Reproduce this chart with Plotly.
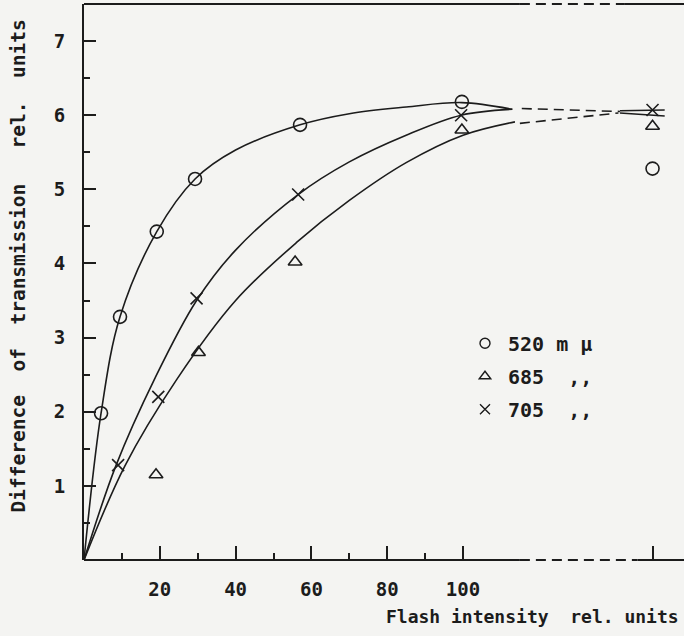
import plotly.graph_objects as go

# ---- measured points (flash intensity, difference of transmission) ----
x_520 = [4.5, 9.5, 19.2, 29.3, 57.0, 99.7]
y_520 = [1.98, 3.28, 4.43, 5.14, 5.87, 6.18]
x_685 = [19.0, 30.2, 55.7, 99.7]
y_685 = [1.15, 2.80, 4.02, 5.80]
x_705 = [9.0, 19.6, 29.7, 56.5, 99.5]
y_705 = [1.28, 2.20, 3.53, 4.93, 6.00]

# points beyond the axis break, placed at the post-break tick
far_x = 150
far_520 = 5.28
far_685 = 5.85
far_705 = 6.07

# ---- hand-fitted saturation curves ----
fit_520_x = [0, 4.5, 9.5, 19.2, 29.3, 40, 57, 70, 85, 99.7, 113]
fit_520_y = [0, 1.98, 3.28, 4.43, 5.14, 5.53, 5.87, 6.02, 6.11, 6.17, 6.08]
fit_705_x = [0, 8.4, 18.7, 29.7, 40, 56.5, 70, 85, 99.5, 113]
fit_705_y = [0, 1.27, 2.45, 3.50, 4.18, 4.93, 5.37, 5.73, 6.00, 6.08]
fit_685_x = [0, 10.8, 24.4, 40, 56, 70, 85, 100, 113.7]
fit_685_y = [0, 1.27, 2.43, 3.50, 4.28, 4.85, 5.36, 5.73, 5.91]

# extrapolations across the break
ext_upper_x = [115.5, 141.4]
ext_upper_y = [6.09, 6.05]
ext_lower_x = [115.0, 141.0]
ext_lower_y = [5.89, 6.03]
far_upper_x = [141.4, 153.2]
far_upper_y = [6.06, 6.07]
far_lower_x = [141.4, 153.2]
far_lower_y = [6.03, 5.99]

# axis ticks
x_major = [20, 40, 60, 80, 100, far_x]
x_major_text = ["20", "40", "60", "80", "100", ""]
x_minor = [10, 30, 50, 70, 90]
y_major = [1, 2, 3, 4, 5, 6, 7]
y_minor = [0.5, 1.5, 2.5, 3.5, 4.5, 5.5, 6.5]

# axis break limits (bottom and top frame lines)
break_bottom = (115, 146)
break_top = (115, 142.5)

INK = "#1c1c1c"
PAPER = "#f4f4f2"
FONT = "DejaVu Sans Mono"

fig = go.Figure()

curve_line = dict(color=INK, width=1.6, shape="spline", smoothing=1.0)
for fx, fy in [(fit_520_x, fit_520_y), (fit_705_x, fit_705_y), (fit_685_x, fit_685_y)]:
    fig.add_trace(go.Scatter(x=fx, y=fy, mode="lines", line=curve_line,
                             showlegend=False, hoverinfo="skip"))

for ex, ey, dash in [(ext_upper_x, ext_upper_y, "10px,6px"),
                     (ext_lower_x, ext_lower_y, "10px,6px"),
                     (far_upper_x, far_upper_y, "solid"),
                     (far_lower_x, far_lower_y, "solid")]:
    fig.add_trace(go.Scatter(x=ex, y=ey, mode="lines",
                             line=dict(color=INK, width=1.6, dash=dash),
                             showlegend=False, hoverinfo="skip"))

series = [
    ("520 m µ", x_520 + [far_x], y_520 + [far_520], "circle-open", 13),
    ("685  ,,", x_685 + [far_x], y_685 + [far_685], "triangle-up-open", 12),
    ("705  ,,", x_705 + [far_x], y_705 + [far_705], "x-thin-open", 12),
]
for i, (name, sx, sy, sym, sz) in enumerate(series):
    fig.add_trace(go.Scatter(x=sx, y=sy, mode="markers", name=name,
                             marker=dict(symbol=sym, size=sz, color=INK,
                                         line=dict(color=INK, width=1.6)),
                             showlegend=False))
    # legend entry with a smaller symbol
    fig.add_trace(go.Scatter(x=[None], y=[None], mode="markers", name=name,
                             legendgroup=f"g{i}",
                             marker=dict(symbol=sym, size=10, color=INK,
                                         line=dict(color=INK, width=1.4))))

# frame lines with dashed breaks
def hline(x0, x1, yp, dash="solid"):
    fig.add_shape(type="line", xref="x", yref="paper", x0=x0, x1=x1, y0=yp, y1=yp,
                  line=dict(color=INK, width=2, dash=dash), layer="above")

for yp, (b0, b1) in [(0, break_bottom), (1, break_top)]:
    hline(0, b0, yp)
    hline(b0, b1, yp, "10px,6px")
    hline(b1, 170, yp)

tick_font = dict(size=19, family=FONT, color=INK, weight="bold")

fig.update_layout(
    width=684, height=636,
    margin=dict(l=84, r=0, t=4, b=76),
    paper_bgcolor=PAPER, plot_bgcolor=PAPER,
    font=dict(family=FONT, color=INK, size=18),
    legend=dict(x=0.63, y=0.425, xanchor="left", yanchor="top",
                bgcolor="rgba(0,0,0,0)",
                font=dict(size=20, family=FONT, color=INK, weight="bold"),
                tracegroupgap=4, itemwidth=36, itemclick=False),
    xaxis=dict(range=[0, 158.3], showgrid=False, zeroline=False, showline=False,
               tickmode="array", tickvals=x_major, ticktext=x_major_text,
               ticks="inside", ticklen=14, tickwidth=2, tickcolor=INK,
               ticklabelstandoff=16, tickfont=tick_font,
               minor=dict(tickmode="array", tickvals=x_minor, ticks="inside",
                          ticklen=7, tickwidth=2, tickcolor=INK)),
    yaxis=dict(range=[0, 7.5], showgrid=False, zeroline=False, showline=True,
               linecolor=INK, linewidth=2,
               tickmode="array", tickvals=y_major,
               ticks="inside", ticklen=12, tickwidth=2, tickcolor=INK,
               ticklabelstandoff=13, tickfont=tick_font,
               minor=dict(tickmode="array", tickvals=y_minor, ticks="inside",
                          ticklen=6, tickwidth=2, tickcolor=INK)),
    annotations=[
        dict(text="Difference  of  transmission   rel.  units", textangle=-90,
             xref="paper", yref="paper", x=-0.11, y=0.528,
             xanchor="center", yanchor="middle", showarrow=False,
             font=dict(size=19.5, family=FONT, color=INK, weight="bold")),
        dict(text="Flash intensity  rel. units",
             xref="paper", yref="paper", x=0.995, y=-0.1025,
             xanchor="right", yanchor="middle", showarrow=False,
             font=dict(size=18, family=FONT, color=INK, weight="bold")),
    ],
)

fig.write_html("out.html")
